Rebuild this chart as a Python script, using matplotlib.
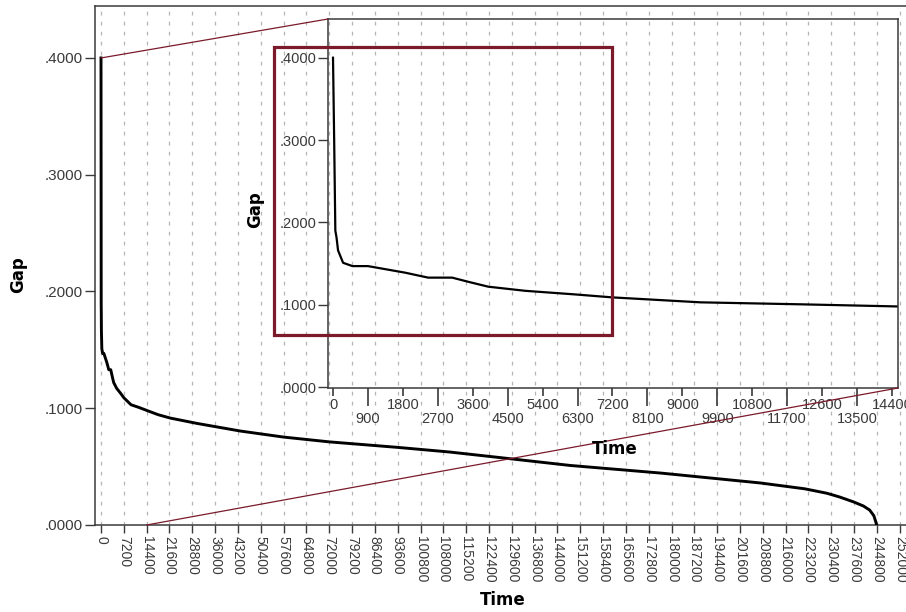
import matplotlib.pyplot as plt
from matplotlib.patches import Rectangle, ConnectionPatch
from matplotlib.ticker import FuncFormatter

# values (time in seconds, gap as a fraction)
time = [0, 30, 60, 90, 130, 260, 500, 900, 1860, 2450, 3070, 3480, 4000,
        4950, 6240, 7200, 9470, 12050, 14550, 18000, 21800, 30300, 43900,
        57600, 72000, 93500, 110000, 125000, 148000, 176500, 208000,
        222000, 229000, 233000, 237500, 240500, 242500, 243800, 244400,
        244700]
gap = [0.400, 0.300, 0.190, 0.182, 0.166, 0.151, 0.147, 0.147, 0.139, 0.133,
       0.133, 0.128, 0.122, 0.117, 0.1126, 0.109, 0.103, 0.1006, 0.098,
       0.0945, 0.0916, 0.0870, 0.0805, 0.0753, 0.0712, 0.0665, 0.0625,
       0.0580, 0.0510, 0.0445, 0.0360, 0.0310, 0.0272, 0.0240, 0.0197,
       0.0163, 0.0128, 0.0080, 0.0030, 0.0]

main_xticks = list(range(0, 252001, 7200))
yticks = [0.0, 0.1, 0.2, 0.3, 0.4]
inset_major = list(range(0, 14401, 1800))
inset_minor = list(range(900, 13501, 1800))

W, H = 906, 612
spine_col = "#3a3a3a"
maroon = "#7b1a2b"
tick_font = "Liberation Sans"
label_font = "DejaVu Sans"


def px(x, y):
    return x / W, 1 - y / H


gap_fmt = FuncFormatter(lambda v, _: f"{v:.4f}".lstrip("0"))

fig = plt.figure(figsize=(W / 100, H / 100), dpi=100)

# main axes: left spine at x=95px, bottom at 525px, right edge off-canvas
ax = fig.add_axes([95 / W, 1 - 525 / H, (915 - 95) / W, (525 - 6) / H])
ax.plot(time, gap, color="black", lw=2.1, zorder=3)
ax.set_xlim(-1893, 256800)
ax.set_ylim(0, 0.4445)
ax.set_xticks(main_xticks)
ax.set_xticklabels([str(t) for t in main_xticks], rotation=-90,
                   fontsize=10, family=tick_font)
ax.set_yticks(yticks)
ax.yaxis.set_major_formatter(gap_fmt)
for lab in ax.get_yticklabels():
    lab.set_family(tick_font)
    lab.set_fontsize(11)
ax.tick_params(axis="x", length=6, width=1, pad=2, colors=spine_col)
ax.tick_params(axis="y", length=7, width=1, pad=2, colors=spine_col)
ax.xaxis.grid(True, color="#b5b5b5", lw=0.9, linestyle=(0, (3, 5)))
ax.yaxis.grid(False)
for s in ax.spines.values():
    s.set_color(spine_col)
    s.set_linewidth(1.1)

# inset axes, transparent so the main grid shows through
axins = fig.add_axes([328 / W, 1 - 388 / H, (898 - 328) / W, (388 - 19) / H])
axins.patch.set_alpha(0)
axins.plot(time, gap, color="black", lw=1.6)
axins.set_xlim(-129, 14555)
axins.set_ylim(-0.001, 0.447)
axins.set_yticks(yticks)
axins.yaxis.set_major_formatter(gap_fmt)
axins.set_xticks(inset_major)
axins.set_xticklabels([str(t) for t in inset_major])
axins.set_xticks(inset_minor, minor=True)
axins.set_xticklabels([str(t) for t in inset_minor], minor=True)
for lab in (axins.get_xticklabels() + axins.get_xticklabels(minor=True)
            + axins.get_yticklabels()):
    lab.set_family(tick_font)
    lab.set_fontsize(10.5)
axins.tick_params(axis="x", which="major", length=6, width=1.2, pad=1,
                  colors=spine_col)
axins.tick_params(axis="x", which="minor", length=13, width=1.2, pad=4,
                  colors=spine_col)
axins.tick_params(axis="y", length=7, width=1, pad=1, colors=spine_col)
for s in axins.spines.values():
    s.set_color(spine_col)
    s.set_linewidth(1.1)

# lines joining the zoomed region to the inset
for xy_main, xy_ins in [((0, 0.4), (0, 1)), ((14400, 0), (1, 0))]:
    con = ConnectionPatch(xyA=xy_main, coordsA=ax.transData,
                          xyB=xy_ins, coordsB=axins.transAxes,
                          color=maroon, lw=0.9)
    fig.add_artist(con)

# highlight box
x0, y0 = px(274, 335)
fig.add_artist(Rectangle((x0, y0), (612 - 274) / W, (335 - 47) / H,
                         transform=fig.transFigure, fill=False,
                         edgecolor=maroon, lw=2.3))

# axis titles
fig.text(*px(18, 275), "Gap", rotation=90, ha="center", va="center",
         fontsize=12, fontweight="bold", family=label_font)
fig.text(*px(503, 600), "Time", ha="center", va="center",
         fontsize=12, fontweight="bold", family=label_font)
fig.text(*px(255, 210), "Gap", rotation=90, ha="center", va="center",
         fontsize=12, fontweight="bold", family=label_font)
fig.text(*px(615, 449), "Time", ha="center", va="center",
         fontsize=12, fontweight="bold", family=label_font)

fig.savefig("out.png", dpi=100)
